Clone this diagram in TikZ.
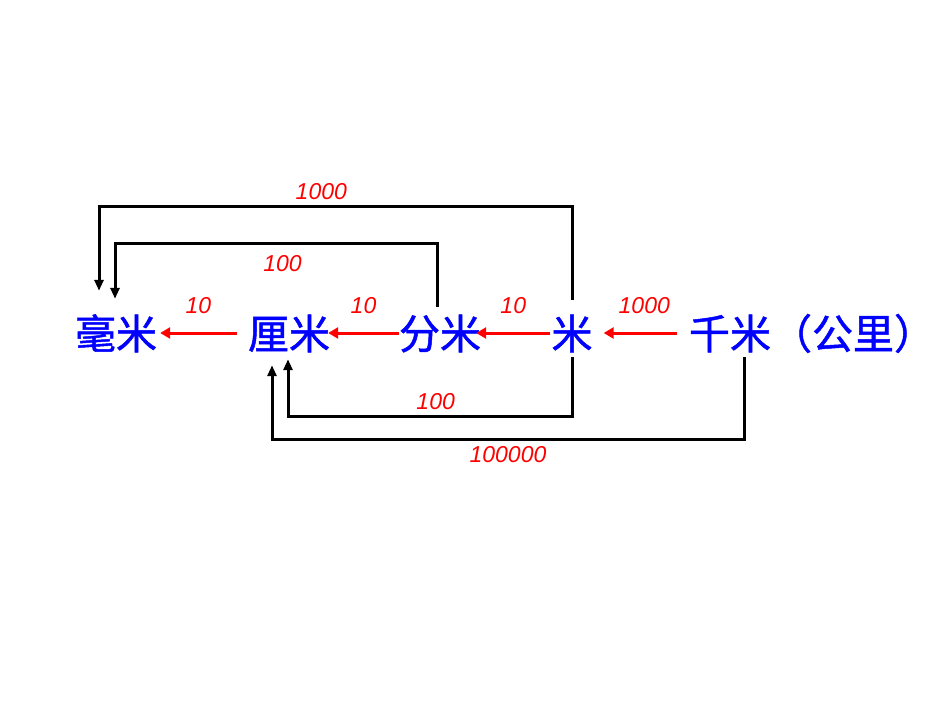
\documentclass[tikz,border=0pt]{standalone}
\usepackage{fontspec}
\setmainfont{Liberation Sans}
\newfontfamily\cjk{Noto Sans CJK SC}[FakeBold=1.2]
\usetikzlibrary{arrows.meta}
\begin{document}
\begin{tikzpicture}[
x=1pt, y=-1pt,
unit/.style={inner sep=0pt, text height=30pt, text depth=8pt, text=blue, font=\cjk\fontsize{41}{41}\selectfont},
num/.style={text=red, inner sep=1pt, font=\itshape\fontsize{23}{23}\selectfont},
conv/.style={draw=red, line width=3pt, -{Triangle[length=10pt,width=11pt]}},
jump/.style={draw=black, line width=3pt, -{Triangle[length=11pt,width=9pt]}},
]
\useasboundingbox (0,0) rectangle (950,713);
% units
\node[unit] (mm) at (116,338) {毫米};
\node[unit] (cm) at (289,338) {厘米};
\node[unit] (dm) at (440,338) {分米};
\node[unit] (m) at (572,338) {米};
\node[unit] (km) at (812,338) {千米（公里）};
% neighbouring steps
\draw[conv] ([xshift=-11pt,yshift=5pt]cm.west) -- node[num, above=17pt] {10} ([xshift=3pt,yshift=5pt]mm.east);
\draw[conv] ([yshift=5pt]dm.west) -- node[num, above=17pt] {10} ([xshift=-2pt,yshift=5pt]cm.east);
\draw[conv] ([xshift=-1pt,yshift=5pt]m.west) -- node[num, above=17pt] {10} ([xshift=-5pt,yshift=5pt]dm.east);
\draw[conv] ([xshift=-12pt,yshift=5pt]km.west) -- node[num, above=17pt, xshift=4pt] {1000} ([xshift=11pt,yshift=5pt]m.east);
% longer steps
\draw[jump] ([yshift=19pt]m.north) -- ++(0,-93)
	-| node[num, pos=0.265, above=5pt] {1000} ([xshift=-17pt,yshift=28pt]mm.north);
\draw[jump] ([xshift=-3pt,yshift=12pt]dm.north) -- ++(0,-63)
	-| node[num, pos=0.24, below=9pt] {100} ([xshift=-1pt,yshift=20pt]mm.north);
\draw[jump] (m.south) -- ++(0,59)
	-| node[num, pos=0.24, above=4pt] {100} ([xshift=-1pt,yshift=-2pt]cm.south);
\draw[jump] ([xshift=-68pt]km.south) -- ++(0,82)
	-| node[num, pos=0.25, below=5pt] {100000} ([xshift=-17pt,yshift=-8pt]cm.south);
\end{tikzpicture}
\end{document}
